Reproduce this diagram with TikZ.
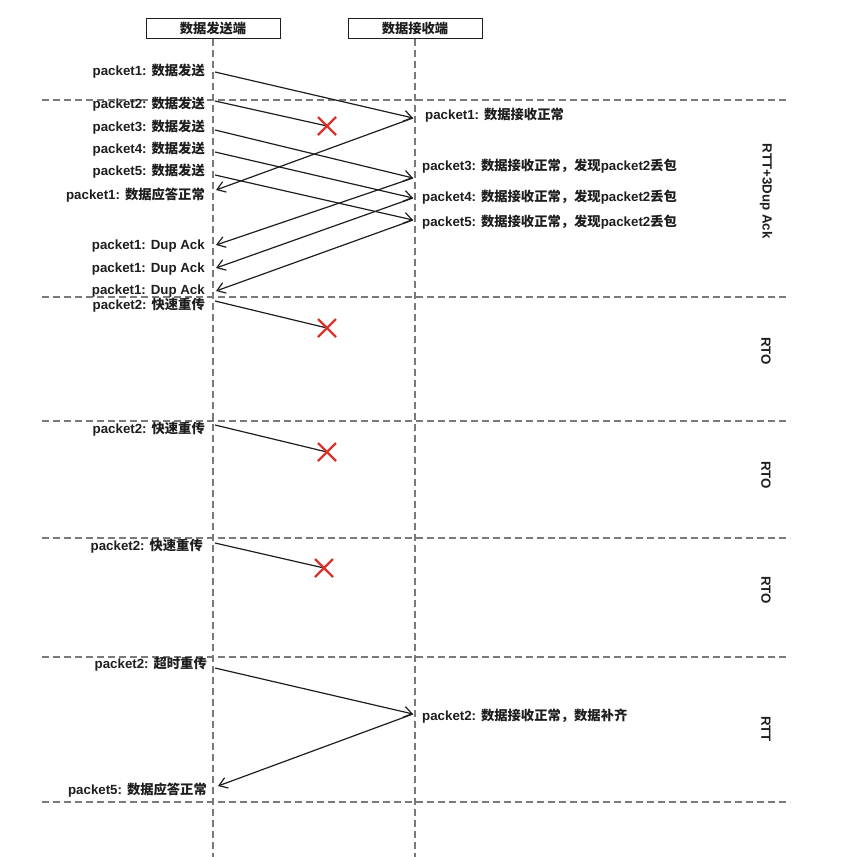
\documentclass[tikz,border=0pt]{standalone}
\usepackage{fontspec}
\setmainfont{Liberation Sans}
\newfontfamily\cjk{Noto Sans CJK SC}
\usetikzlibrary{arrows.meta}
\newcommand\zh[1]{{\cjk\bfseries #1}}
\definecolor{ink}{HTML}{1E1E1E}
\definecolor{dashgray}{HTML}{7A7A7A}
\definecolor{xred}{HTML}{D9342B}
\begin{document}
\begin{tikzpicture}[x=1pt,y=-1pt,
  lbl/.style={font=\fontsize{13.3}{15}\selectfont\bfseries, text=ink, inner sep=0pt},
  leftlbl/.style={lbl, anchor=east},
  rightlbl/.style={lbl, anchor=west},
  sidelbl/.style={lbl, rotate=-90},
  headbox/.style={draw=ink, line width=1pt, fill=white, minimum width=134pt, minimum height=20pt, inner sep=0pt, font=\fontsize{13.3}{15}\selectfont\bfseries, text=ink},
  guide/.style={draw=dashgray, line width=1.3pt, dash pattern=on 7pt off 4pt},
  msg/.style={draw=ink, line width=1.2pt, -{Straight Barb[length=8pt,width=11pt,line width=1.2pt]}},
  lost/.style={draw=ink, line width=1.2pt},
  xmark/.style={draw=xred, line width=2.4pt}
]
\useasboundingbox (0,0) rectangle (842,857);

% header boxes
\node[headbox] (snd) at (213,28) {\zh{数据发送端}};
\node[headbox] (rcv) at (415,28) {\zh{数据接收端}};

% lifelines
\coordinate (sndbot) at (213,857);
\coordinate (rcvbot) at (415,857);
\draw[guide] (snd.south) -- (sndbot);
\draw[guide] (rcv.south) -- (rcvbot);

% horizontal separators
\foreach \yy/\nm in {100/a,297/b,421/c,538/d,657/e,802/f}{
  \coordinate (h\nm l) at (42,\yy);
  \coordinate (h\nm r) at (790,\yy);
  \draw[guide] (h\nm l) -- (h\nm r);
}

% endpoints on sender side
\coordinate (s1) at (215,72);
\coordinate (s2) at (215,101);
\coordinate (s3) at (215,130);
\coordinate (s4) at (215,152);
\coordinate (s5) at (215,175);
\coordinate (a1) at (216,190);
\coordinate (d1) at (216,245);
\coordinate (d2) at (216,268);
\coordinate (d3) at (216,291);
\coordinate (f1) at (215,301);
\coordinate (f2) at (215,425);
\coordinate (f3) at (215,543);
\coordinate (t1) at (215,668);
\coordinate (a5) at (218,786);
% endpoints on receiver side
\coordinate (r1) at (413,118);
\coordinate (r3) at (413,178);
\coordinate (r4) at (413,198);
\coordinate (r5) at (413,220);
\coordinate (r2) at (413,714);
% loss points
\coordinate (x1) at (327,126);
\coordinate (x2) at (327,328);
\coordinate (x3) at (327,452);
\coordinate (x4) at (324,568);

% messages
\draw[msg] (s1) -- (r1);
\draw[lost] (s2) -- (x1);
\draw[msg] (s3) -- (r3);
\draw[msg] (s4) -- (r4);
\draw[msg] (s5) -- (r5);
\draw[msg] (r1) -- (a1);
\draw[msg] (r3) -- (d1);
\draw[msg] (r4) -- (d2);
\draw[msg] (r5) -- (d3);
\draw[lost] (f1) -- (x2);
\draw[lost] (f2) -- (x3);
\draw[lost] (f3) -- (x4);
\draw[msg] (t1) -- (r2);
\draw[msg] (r2) -- (a5);

% red crosses
\foreach \c in {x1,x2,x3,x4}{
  \draw[xmark] ([shift={(-9,-9)}]\c) -- ([shift={(9,9)}]\c);
  \draw[xmark] ([shift={(-9,9)}]\c) -- ([shift={(9,-9)}]\c);
}

% left labels
\node[leftlbl] (L1) at (205,71) {packet1: \zh{数据发送}};
\node[leftlbl] (L2) at (205,104) {packet2: \zh{数据发送}};
\node[leftlbl] (L3) at (205,127) {packet3: \zh{数据发送}};
\node[leftlbl] (L4) at (205,149) {packet4: \zh{数据发送}};
\node[leftlbl] (L5) at (205,171) {packet5: \zh{数据发送}};
\node[leftlbl] (L6) at (205,195) {packet1: \zh{数据应答正常}};
\node[leftlbl] (L7) at (205,246) {packet1: Dup Ack};
\node[leftlbl] (L8) at (205,269) {packet1: Dup Ack};
\node[leftlbl] (L9) at (205,291) {packet1: Dup Ack};
\node[leftlbl] (L10) at (205,305) {packet2: \zh{快速重传}};
\node[leftlbl] (L11) at (205,429) {packet2: \zh{快速重传}};
\node[leftlbl] (L12) at (203,546) {packet2: \zh{快速重传}};
\node[leftlbl] (L13) at (207,664) {packet2: \zh{超时重传}};
\node[leftlbl] (L14) at (207,790) {packet5: \zh{数据应答正常}};

% right labels
\node[rightlbl] (R1) at (425,115) {packet1: \zh{数据接收正常}};
\node[rightlbl] (R3) at (422,166) {packet3: \zh{数据接收正常，发现}packet2\zh{丢包}};
\node[rightlbl] (R4) at (422,197) {packet4: \zh{数据接收正常，发现}packet2\zh{丢包}};
\node[rightlbl] (R5) at (422,222) {packet5: \zh{数据接收正常，发现}packet2\zh{丢包}};
\node[rightlbl] (R2) at (422,716) {packet2: \zh{数据接收正常，数据补齐}};

% side labels
\node[sidelbl] (S1) at (766,191) {RTT+3Dup Ack};
\node[sidelbl] (S2) at (766,351) {RTO};
\node[sidelbl] (S3) at (766,475) {RTO};
\node[sidelbl] (S4) at (766,590) {RTO};
\node[sidelbl] (S5) at (766,729) {RTT};
\end{tikzpicture}
\end{document}
